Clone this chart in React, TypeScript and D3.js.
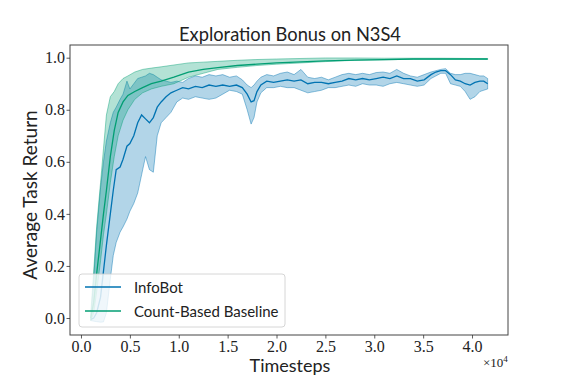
import React, { useEffect, useRef } from 'react';
import * as d3 from 'd3';

const width = 565;
const height = 377;
const margin = { top: 45, right: 57, bottom: 42, left: 70 };

// timesteps are in thousands
const infoBotSteps = [
  1.0, 1.3, 1.6, 2.0, 2.3, 2.6, 3.0, 3.3, 3.6, 4.0, 4.3, 4.7, 5.0, 5.4, 5.8, 6.2, 6.6, 7.0, 7.4, 7.8,
  8.2, 8.7, 9.2, 9.8, 10.4, 11.0, 11.7, 12.4, 13.1, 13.8, 14.5, 15.2, 15.9, 16.5, 17.0, 17.4, 17.7, 18.0,
  18.4, 19.0, 19.7, 20.4, 21.1, 21.8, 22.5, 23.2, 23.9, 24.6, 25.3, 26.0, 26.7, 27.4, 28.1, 28.8, 29.5,
  30.2, 30.9, 31.6, 32.3, 33.0, 33.7, 34.4, 35.1, 35.8, 36.3, 36.8, 37.3, 37.8, 38.3, 38.8, 39.3, 39.8,
  40.3, 40.8, 41.2, 41.6,
];
const infoBotMean = [
  -0.005, 0.0, 0.02, 0.08, 0.18, 0.28, 0.4, 0.49, 0.57, 0.58, 0.61, 0.66, 0.67, 0.7, 0.75, 0.78, 0.765, 0.75, 0.77, 0.81,
  0.83, 0.85, 0.865, 0.875, 0.885, 0.88, 0.89, 0.885, 0.895, 0.89, 0.895, 0.89, 0.895, 0.885, 0.86, 0.83, 0.835, 0.87,
  0.895, 0.91, 0.905, 0.91, 0.915, 0.91, 0.915, 0.9, 0.905, 0.905, 0.9, 0.905, 0.91, 0.92, 0.915, 0.92, 0.915,
  0.92, 0.925, 0.92, 0.93, 0.92, 0.92, 0.91, 0.915, 0.935, 0.945, 0.95, 0.95, 0.935, 0.915, 0.91, 0.9, 0.895,
  0.905, 0.91, 0.91, 0.9,
];
const infoBotLow = [
  -0.01, -0.012, -0.014, -0.016, -0.015, 0.02, 0.15, 0.24, 0.29, 0.33, 0.35, 0.38, 0.41, 0.44, 0.48, 0.55, 0.62, 0.57, 0.56, 0.7,
  0.75, 0.77, 0.79, 0.83, 0.845, 0.84, 0.85, 0.845, 0.84, 0.845, 0.86, 0.875, 0.87, 0.86, 0.8, 0.745, 0.77, 0.83,
  0.865, 0.885, 0.885, 0.89, 0.885, 0.885, 0.875, 0.865, 0.87, 0.875, 0.885, 0.885, 0.89, 0.895, 0.89, 0.9, 0.895,
  0.895, 0.89, 0.9, 0.905, 0.9, 0.895, 0.89, 0.895, 0.92, 0.93, 0.94, 0.94, 0.9, 0.895, 0.89, 0.87, 0.84,
  0.85, 0.87, 0.875, 0.88,
];
const infoBotHigh = [
  0.0, 0.15, 0.33, 0.5, 0.6, 0.68, 0.75, 0.79, 0.81, 0.84, 0.86, 0.91, 0.88, 0.9, 0.92, 0.925, 0.93, 0.94, 0.935, 0.925,
  0.915, 0.91, 0.905, 0.91, 0.905, 0.92, 0.93, 0.925, 0.935, 0.93, 0.935, 0.925, 0.93, 0.915, 0.895, 0.885, 0.895, 0.91,
  0.925, 0.935, 0.93, 0.94, 0.945, 0.935, 0.955, 0.925, 0.92, 0.925, 0.915, 0.925, 0.935, 0.94, 0.935, 0.94, 0.935,
  0.943, 0.945, 0.94, 0.955, 0.94, 0.93, 0.925, 0.935, 0.945, 0.95, 0.955, 0.958, 0.94, 0.935, 0.935, 0.94, 0.94,
  0.935, 0.93, 0.93, 0.92,
];

const countSteps = [
  1.0, 1.3, 1.6, 2.0, 2.3, 2.6, 3.0, 3.4, 3.8, 4.3, 4.8, 5.5, 6.3, 7.2, 8.2, 9.5, 11.0, 12.5, 14.0, 16.0,
  18.0, 20.0, 22.5, 25.0, 28.0, 31.0, 34.0, 37.0, 40.0, 41.6,
];
const countMean = [
  0.0, 0.06, 0.17, 0.3, 0.4, 0.49, 0.62, 0.72, 0.79, 0.83, 0.855, 0.87, 0.885, 0.9, 0.91, 0.925, 0.945, 0.955, 0.962, 0.97,
  0.975, 0.98, 0.984, 0.988, 0.991, 0.993, 0.995, 0.995, 0.995, 0.995,
];
const countLow = [
  -0.01, 0.02, 0.1, 0.22, 0.32, 0.4, 0.52, 0.62, 0.7, 0.76, 0.8, 0.84, 0.865, 0.88, 0.89, 0.9, 0.925, 0.94, 0.955, 0.963,
  0.97, 0.975, 0.98, 0.985, 0.99, 0.992, 0.994, 0.994, 0.994, 0.993,
];
const countHigh = [
  0.02, 0.18, 0.35, 0.52, 0.65, 0.78, 0.85, 0.87, 0.9, 0.92, 0.93, 0.945, 0.955, 0.96, 0.965, 0.972, 0.98, 0.983, 0.986, 0.99,
  0.993, 0.995, 0.997, 0.999, 0.999, 0.998, 0.998, 0.998, 0.997, 0.997,
];

const xTicks = [0, 5, 10, 15, 20, 25, 30, 35, 40];
const yTicks = [0, 0.2, 0.4, 0.6, 0.8, 1.0];
const names = ['InfoBot', 'Count-Based Baseline'];
const colors = ['#0173b2', '#029e73'];

const sans = 'Lato, "DejaVu Sans", sans-serif';
const serif = '"Liberation Serif", serif';

const x = d3.scaleLinear().domain([-1.125, 43.68]).range([margin.left, width - margin.right]);
const y = d3.scaleLinear().domain([-0.0653, 1.0488]).range([height - margin.bottom, margin.top]);

function band(steps, low, high) {
  return d3.area()
    .x((d, i) => x(steps[i]))
    .y0((d, i) => y(low[i]))
    .y1((d, i) => y(high[i]))(steps);
}

function line(steps, vals) {
  return d3.line()
    .x((d, i) => x(steps[i]))
    .y((d, i) => y(vals[i]))(steps);
}

export default function App() {
  const xAxisRef = useRef(null);
  const yAxisRef = useRef(null);

  useEffect(() => {
    const xAxis = d3.axisBottom(x).tickValues(xTicks).tickSize(3.5).tickPadding(2)
      .tickFormat(d => (d / 10).toFixed(1));
    const gx = d3.select(xAxisRef.current).call(xAxis);
    gx.select('.domain').remove();
    gx.selectAll('line').attr('stroke', '#333').attr('stroke-width', 0.8);
    gx.selectAll('text').attr('font-family', serif).attr('font-size', 16).attr('fill', '#222');

    const yAxis = d3.axisLeft(y).tickValues(yTicks).tickSize(3.5).tickPadding(1.5)
      .tickFormat(d3.format('.1f'));
    const gy = d3.select(yAxisRef.current).call(yAxis);
    gy.select('.domain').remove();
    gy.selectAll('line').attr('stroke', '#333').attr('stroke-width', 0.8);
    gy.selectAll('text').attr('font-family', serif).attr('font-size', 16).attr('fill', '#222');
  }, []);

  const plotW = width - margin.left - margin.right;
  const plotH = height - margin.top - margin.bottom;

  return (
    <svg width={width} height={height} style={{ position: 'absolute', left: 0, top: 0 }}>
      <rect width={width} height={height} fill="#fff" />
      <defs>
        <clipPath id="plot">
          <rect x={margin.left} y={margin.top} width={plotW} height={plotH} />
        </clipPath>
      </defs>
      <g clipPath="url(#plot)">
        <path d={band(infoBotSteps, infoBotLow, infoBotHigh)} fill={colors[0]} fillOpacity={0.3}
          stroke={colors[0]} strokeOpacity={0.55} strokeWidth={0.8} />
        <path d={line(infoBotSteps, infoBotMean)} fill="none" stroke={colors[0]} strokeWidth={1.3} />
        <path d={band(countSteps, countLow, countHigh)} fill={colors[1]} fillOpacity={0.3}
          stroke={colors[1]} strokeOpacity={0.55} strokeWidth={0.8} />
        <path d={line(countSteps, countMean)} fill="none" stroke={colors[1]} strokeWidth={1.3} />
      </g>
      <rect x={margin.left} y={margin.top} width={plotW} height={plotH} fill="none" stroke="#444" strokeWidth={1} />
      <g ref={xAxisRef} transform={`translate(0, ${height - margin.bottom})`} />
      <g ref={yAxisRef} transform={`translate(${margin.left}, 0)`} />

      <text x={290} y={41} textAnchor="middle" fontFamily={sans} fontSize={18.3} fill="#222">
        Exploration Bonus on N3S4
      </text>
      <text x={290} y={372} textAnchor="middle" fontFamily={sans} fontSize={18} fill="#222">Timesteps</text>
      <text transform="translate(37, 195) rotate(-90)" textAnchor="middle" fontFamily={sans} fontSize={19} fill="#222">
        Average Task Return
      </text>
      <text x={483} y={367} fontFamily={serif} fontSize={13} fill="#222">
        ×10<tspan dy={-5} fontSize={9}>4</tspan>
      </text>

      <g>
        <rect x={79} y={274} width={206} height={53} rx={3} fill="#fff" fillOpacity={0.8} stroke="#ccc" strokeWidth={0.8} />
        {names.map((n, i) => (
          <g key={n}>
            <line x1={85} x2={121} y1={287 + i * 24} y2={287 + i * 24} stroke={colors[i]} strokeWidth={1.3} />
            <text x={134} y={293 + i * 24} fontFamily={sans} fontSize={15} fill="#222">{n}</text>
          </g>
        ))}
      </g>
    </svg>
  );
}
